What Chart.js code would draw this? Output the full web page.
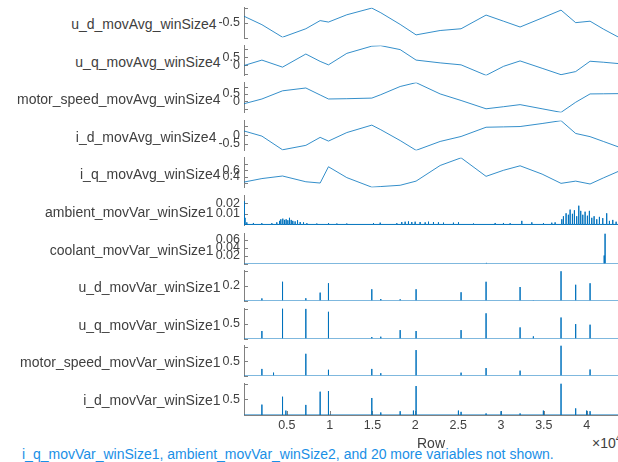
<!DOCTYPE html>
<html>
<head>
<meta charset="utf-8">
<script src="https://cdn.jsdelivr.net/npm/chart.js@4.4.0/dist/chart.umd.min.js"></script>
<style>
  body { margin: 0; background: #fff; }
  #wrap { position: relative; width: 618px; height: 462px; overflow: hidden; font-family: "Liberation Sans", Arial, sans-serif; }
  #wrap canvas { position: absolute; left: 0; }
  .name { position: absolute; left: 0; text-align: right; font-size: 14px; line-height: 16px; color: #404040; white-space: nowrap; }
  #note { position: absolute; left: 22px; top: 446px; font-size: 14px; line-height: 16px; color: #1a8fe6; white-space: nowrap; }
  #expo { position: absolute; left: 592px; top: 431px; font-size: 14px; line-height: 16px; color: #404040; white-space: nowrap; }
  #expo sup { font-size: 10px; }
</style>
</head>
<body>
<div id="wrap">
  <div id="expo">×10<sup>4</sup></div>
  <div id="note">i_q_movVar_winSize1, ambient_movVar_winSize2, and 20 more variables not shown.</div>
</div>
<script>
const varNames = ["u_d_movAvg_winSize4", "u_q_movAvg_winSize4", "motor_speed_movAvg_winSize4",
  "i_d_movAvg_winSize4", "i_q_movAvg_winSize4", "ambient_movVar_winSize1", "coolant_movVar_winSize1",
  "u_d_movVar_winSize1", "u_q_movVar_winSize1", "motor_speed_movVar_winSize1", "i_d_movVar_winSize1"];

const rowRange = [1, 43660];
const xTickVals = [5000, 10000, 15000, 20000, 25000, 30000, 35000, 40000];
const xTickLabels = ["0.5", "1", "1.5", "2", "2.5", "3", "3.5", "4"];

// moving averages, read at the session breakpoints
const avgRows = [1, 2090, 4500, 7220, 8890, 9860, 12000, 14920, 15970, 18230, 20090, 22900,
  25340, 28260, 30300, 32230, 34800, 37010, 38720, 40400, 41950, 43660];
const udAvg = [-0.27, -0.56, -0.99, -0.70, -0.42, -0.47, -0.22, 0.01, -0.15, -0.55, -0.91, -0.76,
  -0.70, -0.23, -0.44, -0.64, -0.33, -0.06, -0.49, -0.44, -0.71, -0.98];
const uqAvg = [-0.01, 0.32, -0.11, 0.69, 0.24, 0.03, 0.73, 1.17, 1.20, 0.96, 0.32, 0.15,
  0.03, -0.61, -0.06, 0.27, -0.18, -0.57, -0.38, 0.25, 0.19, 0.11];
const speedAvg = [-0.16, 0.16, 0.71, 0.90, 0.43, 0.16, 0.18, 0.22, 0.45, 1.00, 1.26, 0.50,
  0.06, -0.50, -0.36, -0.22, -0.50, -0.74, -0.06, 0.50, 0.51, 0.52];
const idAvg = [0.23, -0.06, -0.83, -0.58, -0.13, -0.34, 0.14, 0.56, 0.30, -0.31, -0.86, -0.36,
  -0.08, 0.44, 0.46, 0.48, 0.65, 0.81, 0.09, -0.09, -0.36, -0.66];
const iqAvg = [0.23, 0.34, 0.42, 0.24, 0.20, 0.71, 0.37, 0.07, 0.09, 0.13, 0.26, 0.75,
  0.99, 0.41, 0.60, 0.74, 0.48, 0.19, 0.26, 0.17, 0.36, 0.56];

// moving variances (spikes)
const ambRows = [50, 120, 330, 1100, 2080, 3250, 3830, 4150, 4300, 4530, 4730, 4920, 5120, 5310, 5510,
  5700, 5970, 6250, 6560, 6950, 7340, 8500, 9870, 10840, 12000, 15120, 15900, 17840, 18420, 18810,
  19200, 19590, 19980, 20560, 21150, 21540, 22120, 22700, 23290, 24450, 25040, 26790, 29320, 30290,
  31070, 32430, 33600, 34960, 35930, 36320, 37100, 37290, 37600, 37870, 38070, 38340, 38570, 38840,
  39080, 39310, 39550, 39820, 40090, 40320, 40600, 40870, 41180, 41490, 41880, 42340, 42660, 43050, 43440];
const ambVals = [0.022, 0.0063, 0.002, 0.0014, 0.0012, 0.0012, 0.002, 0.0034, 0.0049, 0.0055, 0.0043,
  0.0049, 0.004, 0.0063, 0.0043, 0.0034, 0.0029, 0.004, 0.0023, 0.002, 0.0012, 0.0009, 0.0012, 0.0009,
  0.0009, 0.0012, 0.0017, 0.0012, 0.0023, 0.0026, 0.0029, 0.0023, 0.0026, 0.0023, 0.002, 0.0026, 0.0023,
  0.002, 0.0017, 0.0017, 0.002, 0.0009, 0.0014, 0.0014, 0.0012, 0.0034, 0.002, 0.0012, 0.0017, 0.002,
  0.0049, 0.0078, 0.0106, 0.0092, 0.0141, 0.0101, 0.0135, 0.0078, 0.0178, 0.0129, 0.0092, 0.0121,
  0.0083, 0.0129, 0.0063, 0.0078, 0.0049, 0.0072, 0.006, 0.0106, 0.0034, 0.0043, 0.0026];
const coolRows = [28300, 42050, 42150];
const coolVals = [0.0015, 0.02, 0.075];
const udVarRows = [2090, 4500, 7220, 8890, 9860, 14920, 15970, 18230, 20090, 25340, 28260, 32230, 33780, 37010, 38720, 40400];
const udVarVals = [0.028, 0.25, 0.03, 0.105, 0.23, 0.15, 0.02, 0.016, 0.15, 0.11, 0.25, 0.18, 0.005, 0.39, 0.21, 0.23];
const uqVarRows = [2090, 4500, 7220, 9860, 14920, 15970, 18230, 20090, 25340, 28260, 32230, 33780, 37010, 38720, 40400];
const uqVarVals = [0.25, 1.0, 0.99, 0.89, 0.05, 0.06, 0.28, 0.25, 0.28, 0.84, 0.37, 0.07, 0.70, 0.48, 0.46];
const speedVarRows = [2090, 3450, 7220, 9860, 14920, 15970, 20090, 25340, 28260, 32230, 37010, 40400];
const speedVarVals = [0.23, 0.10, 0.76, 0.20, 0.23, 0.08, 0.89, 0.10, 0.26, 0.17, 1.05, 0.21];
const idVarRows = [2090, 4500, 4890, 7220, 8890, 9860, 14920, 15970, 18230, 19780, 20090, 25030, 25340,
  28260, 30010, 32230, 34950, 37010, 38720, 40000, 40400];
const idVarVals = [0.33, 0.58, 0.14, 0.32, 0.74, 0.76, 0.54, 0.08, 0.12, 0.14, 0.92, 0.14, 0.10,
  0.05, 0.12, 0.05, 0.14, 1.0, 0.21, 0.14, 0.12];

// y limits, tick marks, and which ticks carry a label
const yLimits = [[-1.0, 0.03], [-0.62, 1.21], [-0.75, 1.27], [-0.87, 0.82], [0.06, 1.0],
  [-0.001, 0.0275], [0, 0.075], [0, 0.4], [0, 1.0], [0, 1.05], [0, 1.0]];
const yTickVals = [[-1, -0.5, 0], [-0.5, 0, 0.5, 1], [-0.5, 0, 0.5, 1], [-0.5, 0, 0.5], [0.2, 0.4, 0.6, 0.8],
  [0, 0.01, 0.02], [0, 0.02, 0.04, 0.06], [0, 0.2, 0.4], [0, 0.5, 1], [0, 0.5, 1], [0, 0.5, 1]];
const yTickShown = [[-0.5], [0, 0.5], [0, 0.5], [-0.5, 0], [0.4, 0.6],
  [0.01, 0.02], [0.02, 0.04, 0.06], [0.2], [0.5], [0.5], [0.5]];

const series = [
  [avgRows, udAvg, false], [avgRows, uqAvg, false], [avgRows, speedAvg, false],
  [avgRows, idAvg, false], [avgRows, iqAvg, false],
  [ambRows, ambVals, true], [coolRows, coolVals, true], [udVarRows, udVarVals, true],
  [uqVarRows, uqVarVals, true], [speedVarRows, speedVarVals, true], [idVarRows, idVarVals, true]
];

const panelTops = [6, 44, 81, 119, 156, 194, 232, 269, 307, 344, 382];
const panelH = 33, pad = 10, axisLeft = 244, xAxisH = 40, tickPad = 4;
const lineBlue = "#0072BD", axisGray = "#808080", textGray = "#404040";
const fontFam = '"Liberation Sans", Arial, sans-serif';
Chart.defaults.font.family = fontFam;

// used to put each name just left of its widest tick label
const measure = document.createElement("canvas").getContext("2d");
measure.font = "12.5px " + fontFam;

function toPoints(rows, vals, spikes) {
  if (!spikes) return rows.map((r, i) => ({ x: r, y: vals[i] }));
  const pts = [{ x: rowRange[0], y: 0 }];
  rows.forEach((r, i) => {
    pts.push({ x: r, y: 0 }, { x: r, y: vals[i] }, { x: r, y: 0 });
  });
  pts.push({ x: rowRange[1], y: 0 });
  return pts;
}

// tick marks drawn inside the axes, like MATLAB; x labels placed under the axis
const innerTicks = {
  id: "innerTicks",
  beforeDatasetsDraw(chart) {
    const ctx = chart.ctx, ys = chart.scales.y, xs = chart.scales.x;
    ctx.save();
    ctx.strokeStyle = axisGray;
    ctx.lineWidth = 1;
    ctx.beginPath();
    ys.ticks.forEach((t) => {
      const py = Math.round(ys.getPixelForValue(t.value)) + 0.5;
      ctx.moveTo(ys.right, py);
      ctx.lineTo(ys.right + 4, py);
    });
    if (xs.options.display) {
      xs.ticks.forEach((t) => {
        const px = Math.round(xs.getPixelForValue(t.value)) + 0.5;
        ctx.moveTo(px, xs.top);
        ctx.lineTo(px, xs.top - 4);
      });
    }
    ctx.stroke();
    if (xs.options.display) {
      ctx.fillStyle = textGray;
      ctx.font = "12.5px " + fontFam;
      ctx.textAlign = "center";
      ctx.textBaseline = "middle";
      xs.ticks.forEach((t) => {
        ctx.fillText(xTickLabels[xTickVals.indexOf(t.value)], xs.getPixelForValue(t.value), xs.top + 11);
      });
    }
    ctx.restore();
  }
};

const wrap = document.getElementById("wrap");

varNames.forEach((name, i) => {
  const last = i === varNames.length - 1;
  const top = panelTops[i];

  const labelW = Math.max(...yTickShown[i].map((v) => measure.measureText(String(v)).width));
  const lbl = document.createElement("div");
  lbl.className = "name";
  lbl.style.width = (axisLeft - tickPad - labelW - 2) + "px";
  lbl.style.top = (top + panelH / 2 - 7) + "px";
  lbl.textContent = name;
  wrap.appendChild(lbl);

  const cv = document.createElement("canvas");
  const h = pad + panelH + (last ? xAxisH : pad);
  cv.width = 618;
  cv.height = h;
  cv.style.top = (top - pad) + "px";
  wrap.appendChild(cv);

  const [rows, vals, spikes] = series[i];
  new Chart(cv, {
    type: "line",
    data: {
      datasets: [{
        data: toPoints(rows, vals, spikes),
        borderColor: lineBlue,
        borderWidth: spikes ? 1 : 0.8,
        pointRadius: 0,
        tension: 0,
        borderJoinStyle: "bevel"
      }]
    },
    options: {
      responsive: false,
      animation: false,
      devicePixelRatio: 1,
      layout: { padding: { top: pad, bottom: last ? 0 : pad, left: 0, right: 0 } },
      plugins: { legend: { display: false }, tooltip: { enabled: false } },
      scales: {
        x: {
          type: "linear",
          min: rowRange[0],
          max: rowRange[1],
          display: last,
          afterFit: (s) => { if (last) s.height = xAxisH; },
          afterBuildTicks: (s) => { s.ticks = xTickVals.map((v) => ({ value: v })); },
          grid: { display: false, drawTicks: false },
          border: { display: true, color: axisGray, width: 1 },
          ticks: { display: false },
          title: {
            display: true, text: "Row", color: textGray,
            font: { size: 14 }, padding: { top: 0, bottom: 2 }
          }
        },
        y: {
          min: yLimits[i][0],
          max: yLimits[i][1],
          afterFit: (s) => { s.width = axisLeft; },
          afterBuildTicks: (s) => { s.ticks = yTickVals[i].map((v) => ({ value: v })); },
          grid: { display: false, drawTicks: false },
          border: { display: true, color: axisGray, width: 1 },
          ticks: {
            autoSkip: false, padding: tickPad, color: textGray,
            font: { size: 12.5 },
            callback: (v) => (yTickShown[i].includes(v) ? String(v) : "")
          }
        }
      }
    },
    plugins: [innerTicks]
  });
});
</script>
</body>
</html>
